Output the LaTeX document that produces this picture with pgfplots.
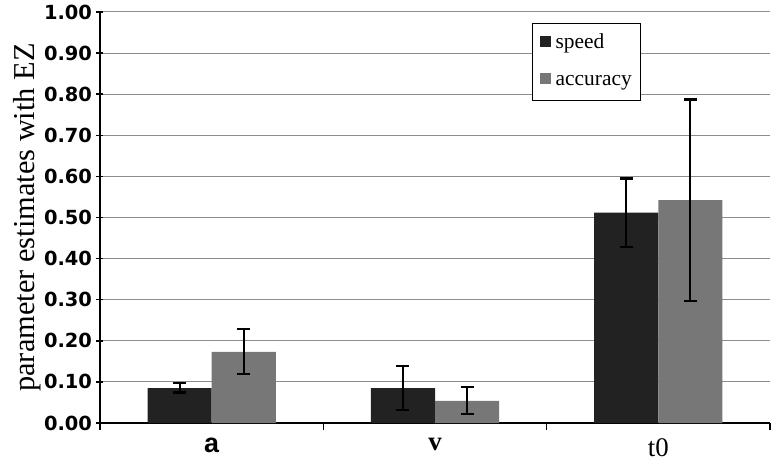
\documentclass[border=0pt]{standalone}
\usepackage{pgfplots}
\pgfplotsset{compat=1.18}
\usepackage{fontspec}
\setmainfont{Liberation Serif}
\setsansfont{DejaVu Sans}
\newfontfamily\arialfont{Liberation Sans}

\definecolor{speedc}{HTML}{222222}
\definecolor{accc}{HTML}{777777}

\begin{document}
\begin{tikzpicture}
  \begin{axis}[
      name=ax,
      scale only axis,
      width=670bp, height=411bp,
      xmin=-0.5, xmax=2.5,
      ymin=0, ymax=1,
      ytick={0,0.1,...,1.0},
      xtick={0,1,2},
      xticklabels={{\arialfont\bfseries a},\textbf{v},t0},
      x tick label style={font=\fontsize{27}{29}\selectfont, yshift=-5bp},
      minor xtick={-0.5,0.5,1.5,2.5},
      major x tick style={draw=none},
      minor tick length=7bp,
      major tick length=7bp,
      tick align=outside,
      tick style={black, line width=1.5pt},
      axis lines=left,
      axis line style={-, black, line width=1.5pt},
      ymajorgrids,
      grid style={gray!90, line width=1pt},
      y tick label style={font=\fontsize{19.5}{21}\selectfont\sffamily\bfseries, xshift=-1bp},
      /pgf/number format/assume math mode=true,
      /pgf/number format/.cd, fixed, fixed zerofill, precision=2,
      /pgfplots/.cd,
      ylabel={parameter estimates with EZ},
      ylabel style={font=\fontsize{30.5}{32}\selectfont, yshift=-4bp},
      ybar=0pt,
      bar width=0.287,
      legend style={at={(0.645,0.973)}, anchor=north west, draw=black,
        line width=1pt, font=\fontsize{21.5}{23}\selectfont,
        nodes={text height=15bp, text depth=5bp},
        /tikz/every odd column/.append style={column sep=3bp},
        row sep=13bp, inner xsep=7bp, inner ysep=8bp, fill=white},
      legend image code/.code={\fill[#1] (0bp,-3bp) rectangle (11bp,8bp);},
      legend cell align=left,
    ]
    \addplot[fill=speedc, draw=none,
      error bars/.cd, y dir=both, y explicit,
      error bar style={black, line width=2.2pt},
      error mark options={rotate=90, mark size=6.5bp, line width=2.2pt, black}]
      table[x=x, y=y, y error plus=ep, y error minus=em] {
        x y     ep    em
        0 0.085 0.012 0.011
        1 0.085 0.054 0.054
        2 0.512 0.083 0.083
      };
    \addplot[fill=accc, draw=none,
      error bars/.cd, y dir=both, y explicit,
      error bar style={black, line width=2.2pt},
      error mark options={rotate=90, mark size=6.5bp, line width=2.2pt, black}]
      table[x=x, y=y, y error plus=ep, y error minus=em] {
        x y     ep    em
        0 0.173 0.055 0.054
        1 0.054 0.034 0.032
        2 0.542 0.245 0.245
      };
    \legend{speed, accuracy}
  \end{axis}
  \pgfresetboundingbox
  \path ([xshift=-100bp,yshift=-41bp]ax.south west) rectangle ([xshift=4bp,yshift=12bp]ax.north east);
\end{tikzpicture}
\end{document}
